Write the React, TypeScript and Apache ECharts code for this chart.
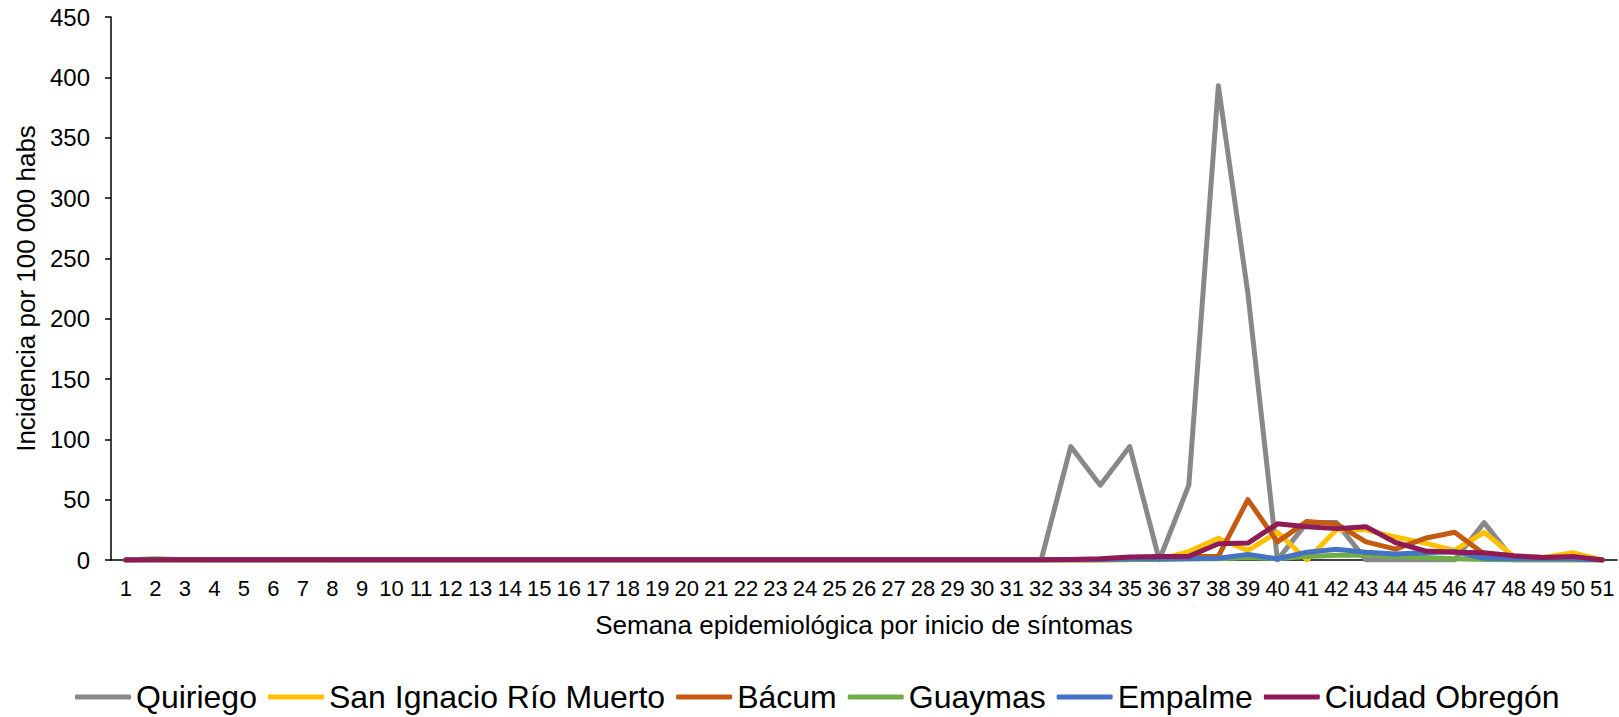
import React, { useEffect, useRef } from "react";
import * as echarts from "echarts";

const weeks: string[] = Array.from({ length: 51 }, (_, i) => String(i + 1));

const zeros32 = [0,0,0,0,0,0,0,0,0,0,0,0,0,0,0,0,0,0,0,0,0,0,0,0,0,0,0,0,0,0,0,0];

const quiriego: number[] = [
  ...zeros32,
  94, 62, 94, 0, 62, 393, 221, 0, 31, 31, 0, 0, 0, 0, 31, 0, 0, 0, 0,
];

const sanIgnacio: number[] = [
  ...zeros32,
  0, 0, 0.3, 0.5, 7, 18, 8, 23, 0, 25, 25, 19, 14, 8, 23, 3, 2, 6, 0,
];

const bacum: number[] = [
  ...zeros32,
  0, 0, 0.5, 2, 3, 3, 50, 15, 32, 30, 15, 9, 18, 23, 5, 3, 2, 2, 0,
];

const guaymas: number[] = [
  0, 1, 0.3, 0, 0, 0, 0.5, 0, 0, 0, 0, 0, 0, 0, 0, 0, 0, 0, 0, 0, 0, 0, 0, 0, 0, 0, 0, 0, 0, 0, 0, 0,
  0, 0, 0.5, 0.5, 1, 1, 2, 1, 3, 4, 4, 3, 2, 1, 0.5, 0, 0, 0, 0,
];

const empalme: number[] = [
  ...zeros32,
  0.3, 0.5, 1, 1, 1, 1.5, 4.5, 1, 6.5, 9, 6.5, 5, 6, 7, 1.5, 1, 1, 1, 0,
];

const ciudadObregon: number[] = [
  0, 0.3, 0.3, 0.3, 0.3, 0.3, 0.3, 0.3, 0.3, 0.3, 0.3, 0.3, 0.3, 0.3, 0.3, 0.3,
  0.3, 0.3, 0.3, 0.3, 0.3, 0.3, 0.3, 0.3, 0.3, 0.3, 0.3, 0.3, 0.3, 0.3, 0.3, 0.3,
  0.5, 1, 2.5, 3, 3, 13.5, 14, 30, 27.5, 26, 27.5, 14.5, 7.5, 6.5, 6, 3.5, 2, 3, 0,
];

const seriesNames = [
  "Quiriego",
  "San Ignacio Río Muerto",
  "Bácum",
  "Guaymas",
  "Empalme",
  "Ciudad Obregón",
];
const seriesColors = ["#888888", "#FFC000", "#C55A11", "#70AD47", "#4472C4", "#8E1B55"];
const seriesData = [quiriego, sanIgnacio, bacum, guaymas, empalme, ciudadObregon];

const yTicks = { min: 0, max: 450, interval: 50 };

const FONT = "'Liberation Sans', Arial, sans-serif";

export default function App() {
  const ref = useRef<HTMLDivElement>(null);

  useEffect(() => {
    if (!ref.current) return;
    const chart = echarts.init(ref.current, undefined, { renderer: "svg" });
    chart.setOption({
      animation: false,
      backgroundColor: "#ffffff",
      textStyle: { fontFamily: FONT },
      grid: { left: 111, right: 2, top: 17, bottom: 157, containLabel: false },
      legend: {
        left: 75,
        top: 681,
        padding: 0,
        icon: "roundRect",
        itemWidth: 56,
        itemHeight: 5,
        itemGap: 11,
        textStyle: { fontFamily: FONT, fontSize: 32, color: "#000" },
        data: seriesNames,
      },
      xAxis: {
        type: "category",
        data: weeks,
        boundaryGap: true,
        name: "Semana epidemiológica por inicio de síntomas",
        nameLocation: "middle",
        nameGap: 52,
        nameTextStyle: { fontFamily: FONT, fontSize: 26, color: "#000" },
        axisLine: { lineStyle: { color: "#000", width: 1.5 } },
        axisTick: { alignWithLabel: true, length: 5, lineStyle: { color: "#000", width: 1.5 } },
        axisLabel: { interval: 0, fontFamily: FONT, fontSize: 22, color: "#000", margin: 17 },
        splitLine: { show: false },
      },
      yAxis: {
        type: "value",
        min: yTicks.min,
        max: yTicks.max,
        interval: yTicks.interval,
        name: "Incidencia por 100 000 habs",
        nameLocation: "middle",
        nameGap: 63,
        nameTextStyle: { fontFamily: FONT, fontSize: 26, color: "#000" },
        axisLine: { show: true, lineStyle: { color: "#000", width: 1.5 } },
        axisTick: { show: true, length: 6, lineStyle: { color: "#000", width: 1.5 } },
        axisLabel: { fontFamily: FONT, fontSize: 24, color: "#000", margin: 21 },
        splitLine: { show: false },
      },
      series: seriesNames.map((name, i) => ({
        name,
        type: "line",
        data: seriesData[i],
        symbol: "none",
        showSymbol: false,
        color: seriesColors[i],
        lineStyle: { width: 5, color: seriesColors[i], join: "round", cap: "round" },
        z: 2 + i,
      })),
    });
    return () => chart.dispose();
  }, []);

  return (
    <div
      ref={ref}
      style={{ position: "fixed", left: 0, top: 0, width: 1619, height: 717, background: "#fff" }}
    />
  );
}
